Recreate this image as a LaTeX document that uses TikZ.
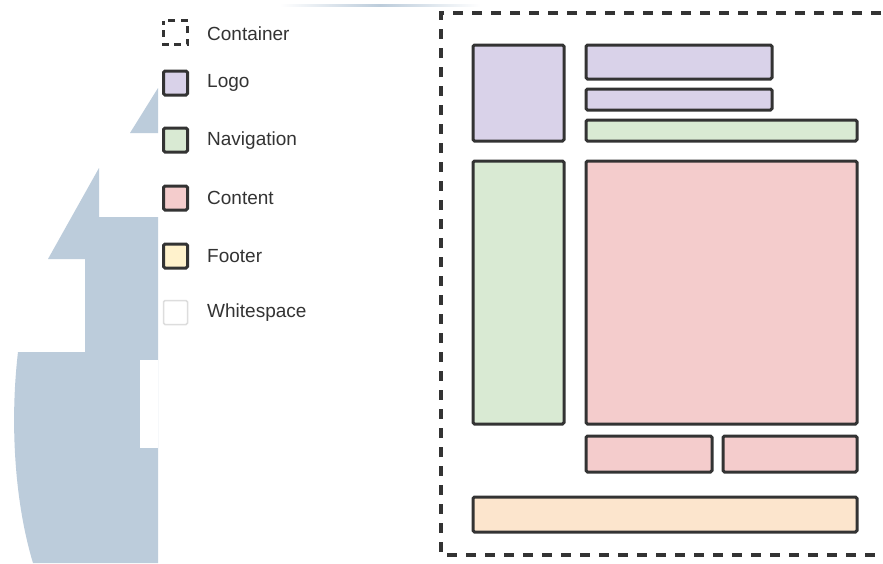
\documentclass[tikz,border=0pt]{standalone}
\usepackage{fontspec}
\setmainfont{Liberation Sans}
\definecolor{wm}{HTML}{BCCCDB}
\definecolor{edge}{HTML}{333333}
\definecolor{txt}{HTML}{333333}
\definecolor{logoc}{HTML}{D9D2E9}
\definecolor{navc}{HTML}{D9EAD3}
\definecolor{contc}{HTML}{F4CCCC}
\definecolor{footc}{HTML}{FCE5CD}
\definecolor{footl}{HTML}{FFF2CC}
\definecolor{wsl}{HTML}{DDDDDD}
\tikzset{
  box/.style={draw=edge, line width=3pt, rounded corners=1.5pt, inner sep=0pt, outer sep=0pt},
  icon/.style={box, minimum width=24pt, minimum height=24pt},
  lbl/.style={anchor=west, inner sep=0pt, text=txt, font=\fontsize{19pt}{22pt}\selectfont},
  cont/.style={draw=edge, line width=3.2pt, dash pattern=on 10pt off 9pt},
}
\begin{document}
\begin{tikzpicture}[x=1pt,y=-1pt]
\useasboundingbox (0,0) rectangle (883,563);
\clip (0,0) rectangle (883,563);
\fill[white] (0,0) rectangle (883,563);
% watermark
\begin{scope}
\clip (0,0) rectangle (158,563);
\fill[wm] (170,217) -- (99,217) -- (99,168) -- (48,259) -- (85,259) -- (85,352) -- (18,352)
  .. controls (10,420) and (14,500) .. (33,563) -- (170,563) -- cycle;
\fill[wm] (158,88) -- (130,133) -- (170,133) -- (170,88) -- cycle;
\fill[white] (140,360) rectangle (158,448);
\end{scope}
\shade[left color=white, right color=white, middle color=wm] (280,4) rectangle (480,6);
% legend
\node[icon, draw=none] (iC) at (175.5,32.5) {};
\draw[edge, line width=3pt, dash pattern=on 7pt off 5.5pt, dash phase=3pt] (iC.north west) rectangle (iC.south east);
\node[icon, fill=logoc] (iL) at (175.5,83) {};
\node[icon, fill=navc] (iN) at (175.5,140) {};
\node[icon, fill=contc] (iT) at (175.5,198) {};
\node[icon, fill=footl] (iF) at (175.5,256) {};
\node[icon, fill=white, draw=wsl, line width=1.5pt] (iW) at (175.5,312.5) {};
\node[lbl] (tC) at (207,34) {Container};
\node[lbl] (tL) at (207,83) {Logo};
\node[lbl] (tN) at (207,141) {Navigation};
\node[lbl] (tT) at (207,198) {Content};
\node[lbl] (tF) at (207,256) {Footer};
\node[lbl] (tW) at (207,313) {Whitespace};
% container
\coordinate (cTR) at (900,13);
\coordinate (cBR) at (900,555);
\draw[cont] (cTR) -- (441,13) -- (441,555) -- (cBR);
% layout boxes
\node[box, fill=logoc, minimum width=91pt, minimum height=96pt] (logo) at (518.5,93) {};
\node[box, fill=logoc, minimum width=186pt, minimum height=34pt] (bar1) at (679,62) {};
\node[box, fill=logoc, minimum width=186pt, minimum height=21pt] (bar2) at (679,99.5) {};
\node[box, fill=navc, minimum width=271pt, minimum height=21pt] (navtop) at (721.5,130.5) {};
\node[box, fill=navc, minimum width=91pt, minimum height=263pt] (navleft) at (518.5,292.5) {};
\node[box, fill=contc, minimum width=271pt, minimum height=263pt] (main) at (721.5,292.5) {};
\node[box, fill=contc, minimum width=126pt, minimum height=36pt] (sub1) at (649,454) {};
\node[box, fill=contc, minimum width=134pt, minimum height=36pt] (sub2) at (790,454) {};
\node[box, fill=footc, minimum width=384pt, minimum height=35pt] (foot) at (665,514.5) {};
\end{tikzpicture}
\end{document}
